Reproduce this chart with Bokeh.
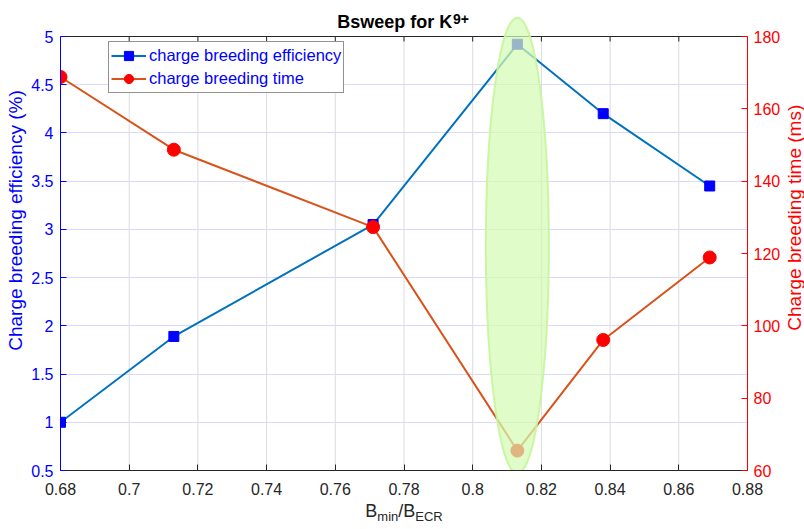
import numpy as np
from bokeh.plotting import figure
from bokeh.layouts import column, row
from bokeh.models import Range1d, LinearAxis, FixedTicker, Legend, LegendItem
from bokeh.core.properties import value
from bokeh.embed import file_html
from bokeh.resources import INLINE

# ---------------- data ----------------
b_ratio = [0.680, 0.713, 0.771, 0.813, 0.838, 0.869]
efficiency = [1.00, 1.89, 3.05, 4.92, 4.20, 3.45]
breeding_time = [168.8, 148.7, 127.3, 65.5, 96.1, 118.9]

x_ticks = [0.68, 0.70, 0.72, 0.74, 0.76, 0.78, 0.80, 0.82, 0.84, 0.86, 0.88]
x_tick_labels = ["0.68", "0.7", "0.72", "0.74", "0.76", "0.78", "0.8", "0.82", "0.84", "0.86", "0.88"]
eff_ticks = [0.5, 1.0, 1.5, 2.0, 2.5, 3.0, 3.5, 4.0, 4.5, 5.0]
eff_tick_labels = ["0.5", "1", "1.5", "2", "2.5", "3", "3.5", "4", "4.5", "5"]
time_ticks = [60, 80, 100, 120, 140, 160, 180]
time_tick_labels = ["60", "80", "100", "120", "140", "160", "180"]

title_main = "Bsweep for K"
title_sup = "9+"
xlabel_parts = ["B", "min", "/B", "ECR"]
ylabel_left = "Charge breeding efficiency (%)"
ylabel_right = "Charge breeding time (ms)"
legend_labels = ["charge breeding efficiency", "charge breeding time"]
highlight_index = 3  # highlighted point (B = 0.813)

# ---------------- page geometry (pixels) ----------------
PW, PH = 804, 529
FX0, FX1 = 60, 747       # axes box left / right
FY0, FY1 = 36, 470       # axes box top / bottom
LEFT_W, RIGHT_W = 27, 20
BOT_Y = 502              # x-label strip top
X0, X1 = 0.68, 0.88
Y0, Y1 = 0.5, 5.0
T0, T1 = 60, 180
FW, FH = FX1 - FX0, FY1 - FY0

def xd(px):   # page px -> x data
    return X0 + (px - FX0) / FW * (X1 - X0)

def yd(py):   # page px (from top) -> left-axis data
    return Y1 - (py - FY0) / FH * (Y1 - Y0)

def td(py):   # page px (from top) -> right-axis data
    return T1 - (py - FY0) / FH * (T1 - T0)

FONT = "Liberation Sans"
BLUE_AX = "#0000FF"
RED_AX = "#FF0000"
DARK = "#262626"
GRID_V = "#dcdce0"
GRID_H = "#dadaff"
ELL_FILL = "#d4fbb3"
ELL_LINE = "#c6f59c"

MAIN_H = BOT_Y
MAIN_W = PW - LEFT_W - RIGHT_W

def bare(w, h, xr, yr):
    f = figure(width=w, height=h, x_range=xr, y_range=yr, output_backend="svg",
               toolbar_location=None, min_border=0, x_axis_location=None,
               y_axis_location=None)
    f.outline_line_color = None
    f.xgrid.visible = False
    f.ygrid.visible = False
    f.background_fill_color = "white"
    f.border_fill_color = "white"
    return f

# ---------------- main figure (frame reaches the page top, axes bounded) ----------------
p = figure(width=MAIN_W, height=MAIN_H, output_backend="svg", toolbar_location=None,
           x_range=Range1d(X0, X1), y_range=Range1d(Y0, yd(0)),
           min_border_left=FX0 - LEFT_W, min_border_right=PW - RIGHT_W - FX1,
           min_border_top=0, min_border_bottom=BOT_Y - FY1)
p.extra_y_ranges = {"time": Range1d(T0, td(0))}
p.outline_line_color = None
p.background_fill_color = "white"
p.border_fill_color = "white"

xt = FixedTicker(ticks=x_ticks)
yt = FixedTicker(ticks=eff_ticks)
tt = FixedTicker(ticks=time_ticks)

def style_axis(ax, color, label_color):
    ax.axis_line_color = color
    ax.major_tick_line_color = color
    ax.minor_tick_line_color = None
    ax.major_tick_in = 6
    ax.major_tick_out = 0
    ax.major_label_text_color = label_color
    ax.major_label_text_font = FONT
    ax.major_label_text_font_size = "16px"

xa = p.xaxis[0]
xa.ticker = xt
xa.major_label_overrides = dict(zip(x_ticks, x_tick_labels))
style_axis(xa, DARK, DARK)
xa.major_label_standoff = 12

ya = p.yaxis[0]
ya.ticker = yt
ya.bounds = (Y0, Y1)
ya.major_label_overrides = dict(zip(eff_ticks, eff_tick_labels))
style_axis(ya, BLUE_AX, BLUE_AX)
ya.major_label_standoff = 7

ra = LinearAxis(y_range_name="time", ticker=tt, bounds=(T0, T1))
ra.major_label_overrides = dict(zip(time_ticks, time_tick_labels))
style_axis(ra, RED_AX, RED_AX)
ra.major_label_standoff = 6
p.add_layout(ra, "right")

p.xgrid.visible = False
p.ygrid.ticker = yt
p.ygrid.grid_line_color = GRID_H

n = len(x_ticks)
# vertical grid lines, limited to the axes box
p.segment(x0=x_ticks, y0=[Y0] * n, x1=x_ticks, y1=[Y1] * n, line_color=GRID_V, line_width=1)
# top edge of the box and its inward ticks
p.segment(x0=[X0], y0=[Y1], x1=[X1], y1=[Y1], line_color=DARK, line_width=1)
tick_len = 5 / FH * (Y1 - Y0)
p.segment(x0=x_ticks, y0=[Y1] * n, x1=x_ticks, y1=[Y1 - tick_len] * n,
          line_color=DARK, line_width=1)

# ---------------- series ----------------
l1 = p.line(b_ratio, efficiency, line_color="#0072BD", line_width=2)
s1 = p.scatter(b_ratio, efficiency, marker="square", size=10, fill_color="#0000FF", line_color="#0000FF")
l2 = p.line(b_ratio, breeding_time, y_range_name="time", line_color="#D95319", line_width=2)
s2 = p.scatter(b_ratio, breeding_time, y_range_name="time", marker="circle", size=13,
               fill_color="#FF0000", line_color="#FF0000")

# ---------------- highlight ellipse ----------------
cx = b_ratio[highlight_index]
p.ellipse(x=cx, y=yd(245), width=63 / FW * (X1 - X0), height=456 / FH * (Y1 - Y0),
          fill_color=ELL_FILL, fill_alpha=0.72, line_color=ELL_LINE, line_alpha=0.9, line_width=2)

# ---------------- title (inside the extended frame) ----------------
p.text(x=[xd(451.7)], y=[yd(21.8)], text=[title_main], text_align="right",
       text_baseline="middle", text_font=value(FONT), text_font_size=value("18px"),
       text_font_style="bold", text_color="#000000")
p.text(x=[xd(452.5)], y=[yd(18.2)], text=[title_sup], text_align="left",
       text_baseline="middle", text_font=value(FONT), text_font_size=value("14px"),
       text_font_style="bold", text_color="#000000")

# ---------------- legend ----------------
legend = Legend(items=[LegendItem(label=legend_labels[0], renderers=[l1, s1]),
                       LegendItem(label=legend_labels[1], renderers=[l2, s2])],
                location=(48, FY1 - 43 - 50), orientation="vertical",
                label_text_font=FONT, label_text_font_size="16.5px", label_text_color=BLUE_AX,
                glyph_width=35, glyph_height=23, label_height=23, label_standoff=3,
                padding=2, spacing=0, margin=0,
                border_line_color=DARK, border_line_width=1,
                background_fill_color="white", background_fill_alpha=1)
p.add_layout(legend)

# ---------------- y-axis label strips ----------------
LBL_FS = 19
mid_off = 0.3465 * LBL_FS   # baseline offset from the 'middle' anchor
left = bare(LEFT_W, MAIN_H, Range1d(0, LEFT_W), Range1d(MAIN_H, 0))
left.text(x=[22 - mid_off], y=[235], text=[ylabel_left], angle=np.pi / 2,
          text_align="center", text_baseline="middle", text_font=value(FONT),
          text_font_size=value(f"{LBL_FS}px"), text_color=BLUE_AX)

right = bare(RIGHT_W, MAIN_H, Range1d(PW - RIGHT_W, PW), Range1d(MAIN_H, 0))
right.text(x=[801 - mid_off], y=[232], text=[ylabel_right], angle=np.pi / 2,
           text_align="center", text_baseline="middle", text_font=value(FONT),
           text_font_size=value(f"{LBL_FS}px"), text_color=RED_AX)

# ---------------- x-axis label strip ----------------
BOT_H = PH - BOT_Y
bottom = bare(PW, BOT_H, Range1d(0, PW), Range1d(PH, BOT_Y))
main_sz, sub_sz = 18, 13
widths = [0.667 * main_sz, 1.611 * sub_sz, 0.945 * main_sz, 2.111 * sub_sz]
start = (FX0 + FX1) / 2 - sum(widths) / 2
lefts = list(start + np.concatenate([[0], np.cumsum(widths)[:-1]]))
sizes = [main_sz, sub_sz, main_sz, sub_sz]
baselines = [517, 521, 517, 521]
for txt, lx, sz, by in zip(xlabel_parts, lefts, sizes, baselines):
    bottom.text(x=[lx], y=[by - 0.3465 * sz], text=[txt], text_align="left", text_baseline="middle",
                text_font=value(FONT), text_font_size=value(f"{sz}px"), text_color=DARK)

layout = column(row(left, p, right), bottom)
open("out.html", "w").write(file_html(layout, INLINE))
